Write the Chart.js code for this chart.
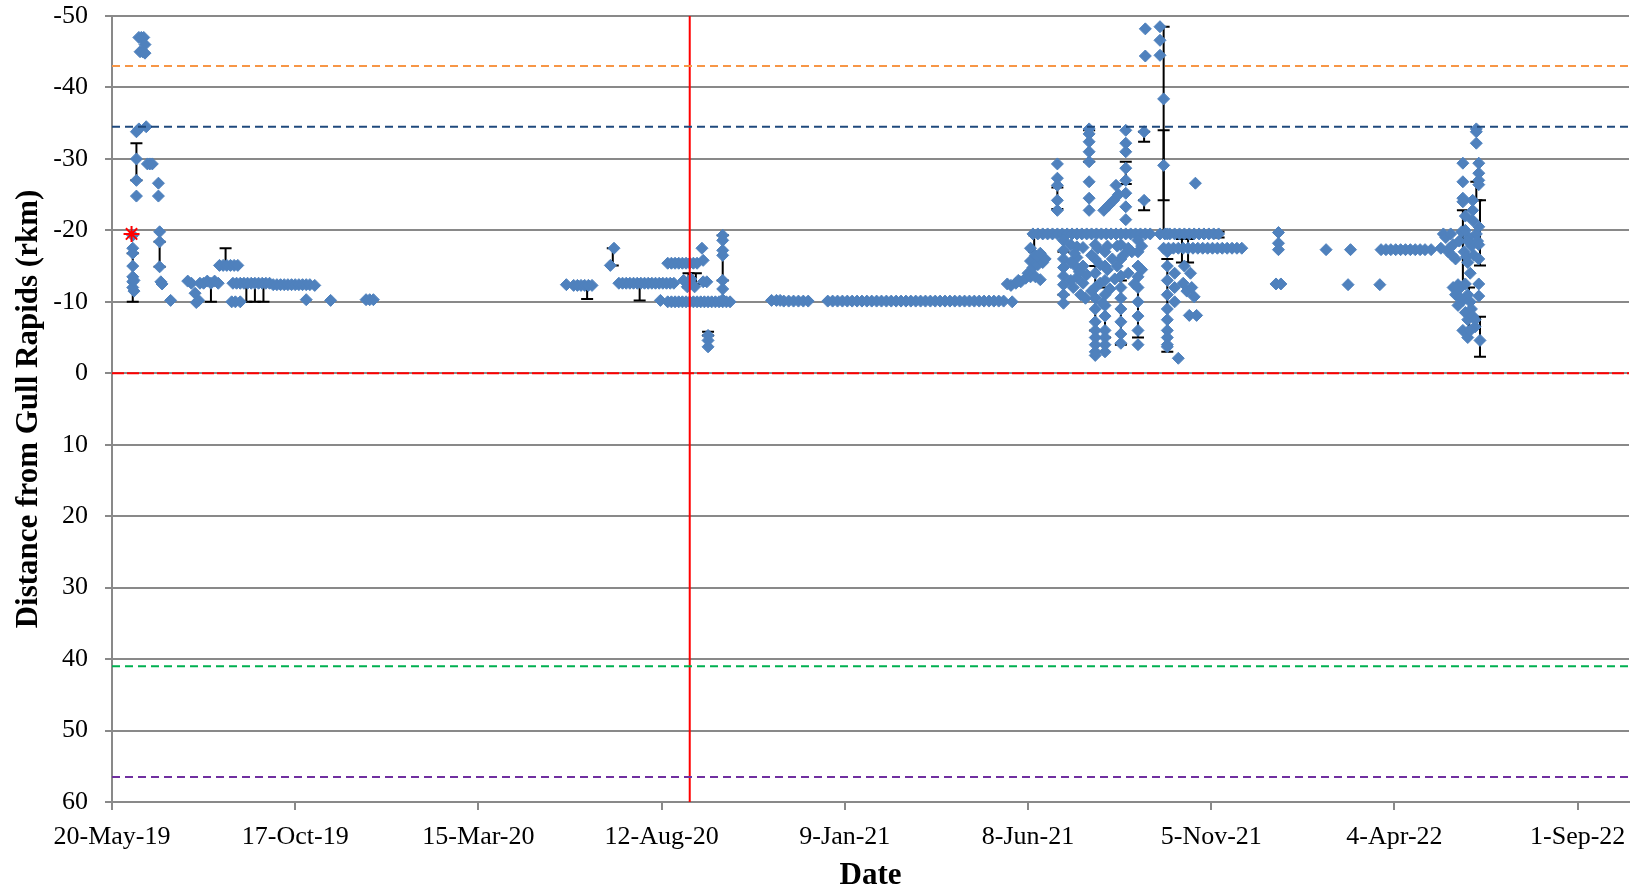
<!DOCTYPE html>
<html lang="en">
<head>
    <meta charset="UTF-8">
    <title>Distance from Gull Rapids</title>
    <style>
        body {
            margin: 0;
            background: #fff;
        }

        #chart-box {
            width: 1639px;
            height: 892px;
        }
    </style>
</head>
<body>
    <div id="chart-box">
        <canvas id="rkm-chart"></canvas>
    </div>

    <script src="https://cdn.jsdelivr.net/npm/chart.js"></script>
    <script>
        // dates are Excel serial day numbers (20-May-19 = 43605)
        const xMin = 43605;
        const xMax = 44847;
        const xTicks = [43605, 43755, 43905, 44055, 44205, 44355, 44505, 44655, 44805];
        const yTicks = [-50, -40, -30, -20, -10, 0, 10, 20, 30, 40, 50, 60];

        // detections: date and distance from Gull Rapids (rkm)
        const detDates = [
            43622, 43622, 43622, 43622, 43622, 43622, 43622, 43623, 43623,
            43625, 43625, 43625, 43625, 43627, 43633,
            43627, 43629, 43631, 43632, 43628, 43630, 43632,
            43634, 43636, 43638, 43643, 43643, 43644, 43644, 43644, 43645, 43646,
            43653, 43667, 43670, 43673, 43674, 43676, 43677, 43680, 43683, 43686, 43689, 43692,
            43693, 43696, 43699, 43702, 43705, 43708, 43703, 43706, 43710,
            43704, 43707, 43710, 43713, 43716, 43719, 43722, 43725, 43728, 43731, 43734,
            43737, 43740, 43743, 43746, 43749, 43752, 43755, 43758, 43761, 43764, 43767,
            43764, 43771, 43784, 43813, 43816, 43819,
            43977, 43983, 43986, 43989, 43992, 43995, 43998, 44013, 44016,
            44020, 44023, 44026, 44029, 44032, 44035, 44038, 44041,
            44044, 44047, 44050, 44053, 44056, 44059, 44062, 44065,
            44054, 44060, 44063, 44066, 44069, 44072, 44075, 44078, 44081, 44084,
            44087, 44090, 44093, 44096, 44099, 44102, 44105, 44108, 44111,
            44060, 44063, 44066, 44069, 44072, 44075, 44078, 44081, 44084,
            44073, 44076, 44079, 44082, 44088, 44089, 44089, 44092,
            44105, 44105, 44105, 44105, 44105, 44105, 44105,
            44093, 44093, 44093,
            44145, 44149, 44152, 44155, 44159, 44163, 44167, 44171, 44175,
            44191, 44195, 44199, 44203, 44207, 44211, 44215, 44219, 44223, 44227, 44231, 44235, 44239,
            44243, 44247, 44251, 44255, 44259, 44263, 44267, 44271, 44275, 44279, 44283, 44287,
            44291, 44295, 44299, 44303, 44307, 44311, 44315, 44319, 44323, 44327, 44331, 44335,
            44338, 44341, 44342, 44345, 44347, 44349, 44353, 44355, 44357, 44361, 44365,
            44357, 44357, 44359, 44359, 44361, 44361, 44363, 44363, 44365, 44367, 44369,
            44363, 44367, 44371, 44375, 44379, 44383, 44387, 44391, 44395, 44399, 44403, 44407,
            44411, 44415, 44419, 44423, 44427, 44431, 44435, 44439, 44443, 44447, 44451, 44455,
            44379, 44379, 44379, 44379, 44379,
            44384, 44384, 44384, 44384, 44384, 44384, 44384, 44384,
            44395, 44395, 44395, 44395, 44392, 44398,
            44405, 44405, 44405, 44405, 44405, 44405, 44405, 44405,
            44410, 44410, 44410, 44410, 44410, 44410, 44410, 44410, 44410, 44410, 44410, 44410,
            44418, 44418, 44418, 44418, 44418, 44418, 44418, 44418, 44418, 44418,
            44417, 44421, 44425, 44427, 44429,
            44435, 44435, 44435, 44435, 44435, 44435, 44435, 44435,
            44431, 44431, 44431, 44431, 44431, 44431, 44431, 44431, 44431,
            44445, 44445, 44445, 44445, 44445, 44445, 44445, 44445, 44445,
            44390, 44390, 44390, 44393, 44397, 44400, 44400, 44400, 44402, 44403,
            44407, 44407, 44412, 44414, 44414, 44416, 44420, 44420, 44422, 44424,
            44426, 44428, 44428, 44433, 44437, 44437, 44440, 44442, 44448, 44448,
            44450, 44450, 44451, 44451, 44463, 44463, 44463, 44466, 44466,
            44469, 44469, 44469, 44469, 44469, 44469, 44469, 44469, 44469, 44469, 44469,
            44475, 44475, 44475, 44478, 44482, 44485, 44489, 44491, 44487, 44493, 44483, 44488, 44492,
            44466, 44470, 44474, 44478, 44482, 44486, 44490, 44494, 44498, 44502, 44506, 44510, 44514, 44518, 44522, 44526, 44530,
            44463, 44467, 44471, 44475, 44479, 44483, 44487, 44491, 44495, 44499, 44503, 44507, 44511,
            44558, 44562, 44560, 44560, 44560, 44599, 44617, 44619, 44643,
            44644, 44648, 44652, 44656, 44660, 44664, 44668, 44672, 44676, 44680, 44685,
            44693, 44695, 44697, 44699, 44701, 44703, 44705, 44707, 44709, 44705, 44700, 44702, 44708, 44710, 44712,
            44714, 44716, 44718, 44720, 44722, 44723, 44703, 44705, 44711, 44713, 44715, 44711, 44715,
            44711, 44711, 44711, 44711, 44713, 44713, 44715, 44715, 44717, 44717, 44718,
            44719, 44719, 44719, 44719, 44721, 44721, 44722, 44722, 44722,
            44724, 44724, 44724, 44724, 44724, 44724, 44724, 44724, 44724, 44725,
            44713, 44715, 44715, 44717, 44709, 44707
        ];
        const detRkm = [
            -19.3, -17.5, -16.8, -15, -13.5, -12.8, -12, -11.5, -13,
            -33.8, -30, -27, -24.8, -34.2, -34.5,
            -47, -47, -47, -46, -45, -45, -44.8,
            -29.3, -29.3, -29.3, -26.6, -24.8, -19.8, -18.4, -14.9, -12.8, -12.5,
            -10.2, -12.9, -12.6, -11.2, -9.9, -10.2, -12.6, -12.6, -12.9, -12.6, -12.9, -12.6,
            -15.1, -15.1, -15.1, -15.1, -15.1, -15.1, -10, -10, -10,
            -12.6, -12.6, -12.6, -12.6, -12.6, -12.6, -12.6, -12.6, -12.6, -12.6, -12.6,
            -12.4, -12.4, -12.4, -12.4, -12.4, -12.4, -12.4, -12.4, -12.4, -12.4, -12.4,
            -10.3, -12.3, -10.2, -10.3, -10.3, -10.3,
            -12.4, -12.3, -12.3, -12.3, -12.3, -12.3, -12.3, -15.1, -17.5,
            -12.6, -12.6, -12.6, -12.6, -12.6, -12.6, -12.6, -12.6,
            -12.6, -12.6, -12.6, -12.6, -12.6, -12.6, -12.6, -12.6,
            -10.2, -10, -10, -10, -10, -10, -10, -10, -10, -10,
            -10, -10, -10, -10, -10, -10, -10, -10, -10,
            -15.4, -15.4, -15.4, -15.4, -15.4, -15.4, -15.4, -15.4, -15.4,
            -13, -12.1, -13.2, -12.1, -17.5, -15.8, -12.8, -12.8,
            -19.3, -18.6, -17.2, -16.5, -13, -11.8, -10.3,
            -5.3, -4.6, -3.7,
            -10.2, -10.2, -10.2, -10.1, -10.1, -10.1, -10.1, -10.1, -10.1,
            -10.1, -10.1, -10.1, -10.1, -10.1, -10.1, -10.1, -10.1, -10.1, -10.1, -10.1, -10.1, -10.1,
            -10.1, -10.1, -10.1, -10.1, -10.1, -10.1, -10.1, -10.1, -10.1, -10.1, -10.1, -10.1,
            -10.1, -10.1, -10.1, -10.1, -10.1, -10.1, -10.1, -10.1, -10.1, -10.1, -10.1, -10.1,
            -12.5, -12.3, -10, -12.6, -13, -12.8, -13.3, -14, -13.5, -13.5, -13.1,
            -17.5, -15.7, -19.5, -14.8, -16.5, -15.3, -15.2, -16.3, -16.8, -15.5, -16,
            -19.5, -19.5, -19.5, -19.5, -19.5, -19.5, -19.5, -19.5, -19.5, -19.5, -19.5, -19.5,
            -19.5, -19.5, -19.5, -19.5, -19.5, -19.5, -19.5, -19.5, -19.5, -19.5, -19.5, -19.5,
            -29.3, -27.3, -26.3, -24.2, -22.8,
            -18.6, -17.2, -16, -14.8, -13.6, -12.4, -11, -9.8,
            -17.7, -16.2, -14.8, -13.4, -12, -11,
            -34.2, -33.5, -32.4, -31, -29.6, -26.8, -24.5, -22.8,
            -18, -16, -14, -12, -10.5, -9, -7.2, -6, -5, -4, -3, -2.5,
            -17, -15, -13, -11, -9.5, -8, -6, -5, -4, -3,
            -22.8, -23.5, -24.2, -26.3, -25,
            -34, -32.2, -31, -28.7, -27, -25.2, -23.3, -21.5,
            -18, -16, -13.6, -12, -10.5, -9, -7.2, -5.5, -4.2,
            -18.6, -17, -15, -13.5, -12, -10, -8, -6, -4,
            -18, -15.5, -13, -16.8, -14.2, -17.6, -15, -12.6, -10.5, -13.8,
            -16.5, -11.5, -17.5, -15.2, -12.6, -9.8, -17.8, -14.5, -11.8, -16,
            -13.2, -17.8, -15, -16.5, -17.5, -14, -17, -12.5, -17.8, -14.5,
            -33.8, -24.2, -48.2, -44.4, -48.5, -46.6, -44.5, -38.4, -29.1,
            -19.5, -17, -15, -13, -11, -9, -7.5, -6, -5, -4, -3.7,
            -14, -12, -10, -2.1, -12.6, -11.5, -12, -10.7, -8.1, -8.1, -15, -14, -26.6,
            -17.5, -17.5, -17.5, -17.5, -17.5, -17.5, -17.5, -17.5, -17.5, -17.5, -17.5, -17.5, -17.5, -17.5, -17.5, -17.5, -17.5,
            -19.5, -19.5, -19.5, -19.5, -19.5, -19.5, -19.5, -19.5, -19.5, -19.5, -19.5, -19.5, -19.5,
            -12.5, -12.5, -19.7, -18.2, -17.3, -17.3, -12.4, -17.3, -12.4,
            -17.3, -17.3, -17.3, -17.3, -17.3, -17.3, -17.3, -17.3, -17.3, -17.3, -17.3,
            -17.5, -19.5, -19, -17, -19.5, -18, -16, -12.4, -12, -11, -17.5, -16.5, -18.5, -19.8, -17,
            -16.3, -19, -17.8, -16.5, -19.5, -18.5, -12, -11.8, -10.2, -8.5, -7.5, -6, -5.8,
            -29.4, -26.8, -24.5, -24, -22, -20, -18.5, -15.5, -14, -10, -9,
            -24.2, -22.8, -21.4, -8, -6.5, -7.5, -34.2, -33.8, -32.2,
            -29.4, -28, -27, -26.4, -20.5, -18, -16, -12.5, -10.8, -4.6,
            -12.5, -11, -5, -6, -10.5, -9.5
        ];

        // error bars: date, upper and lower end (rkm)
        const errDates = [43622, 43625, 43644, 43686, 43698, 43715, 43722, 43729,
            43994, 44015, 44037, 44077, 44083, 44093, 44105,
            44360, 44379, 44384, 44405, 44410, 44418, 44431, 44435, 44445, 44450, 44450,
            44466, 44466, 44469, 44481, 44486, 44511,
            44711, 44716, 44722, 44725, 44725];
        const errTop = [-16.8, -32.2, -18.4, -12.6, -17.5, -12.6, -12.6, -12.6,
            -12.3, -17.5, -12.6, -14, -14, -5.8, -19.3,
            -19.3, -26, -17, -34, -15, -12, -13, -29.6, -15, -33.8, -24.2,
            -48.5, -34, -16, -18.8, -18.8, -19.8,
            -22.8, -12, -26.8, -24.2, -7.9];
        const errBottom = [-10, -27, -14.9, -10, -15.1, -10, -10, -10,
            -10.4, -15.1, -10.2, -12, -12.5, -5.3, -13,
            -17, -23, -11, -29.6, -6, -5, -4, -26.5, -5, -32.4, -22.8,
            -19.6, -24.2, -3, -15.5, -15.5, -19,
            -12.6, -6, -24.2, -15.1, -2.3];

        // first release location
        const releaseDates = [43621];
        const releaseRkm = [-19.5];

        // horizontal reference levels (rkm) and the vertical date marker
        const refLevels = [-43, -34.5, 0, 41, 56.5];
        const refColors = ['#F79646', '#1F497D', '#FF0000', '#00B050', '#7030A0'];
        const markerDate = 44078;

        const months = ['Jan', 'Feb', 'Mar', 'Apr', 'May', 'Jun', 'Jul', 'Aug', 'Sep', 'Oct', 'Nov', 'Dec'];

        function serialToLabel(serial) {
            const d = new Date((serial - 25569) * 86400000);
            const yy = String(d.getUTCFullYear()).slice(2);
            return `${d.getUTCDate()}-${months[d.getUTCMonth()]}-${yy}`;
        }

        const errorBars = {
            id: 'errorBars',
            beforeDatasetsDraw(chart) {
                const { ctx, scales: { x, y } } = chart;
                ctx.save();
                ctx.strokeStyle = '#000';
                ctx.lineWidth = 2;
                errDates.forEach((d, i) => {
                    const px = x.getPixelForValue(d);
                    const top = y.getPixelForValue(errTop[i]);
                    const bot = y.getPixelForValue(errBottom[i]);
                    ctx.beginPath();
                    ctx.moveTo(px, top);
                    ctx.lineTo(px, bot);
                    ctx.moveTo(px - 6, top);
                    ctx.lineTo(px + 6, top);
                    ctx.moveTo(px - 6, bot);
                    ctx.lineTo(px + 6, bot);
                    ctx.stroke();
                });
                ctx.restore();
            }
        };

        const refDatasets = refLevels.map((level, i) => ({
            type: 'line',
            data: [{ x: xMin, y: level }, { x: xMax, y: level }],
            borderColor: refColors[i],
            borderWidth: 2,
            borderDash: level === 0 ? [12, 3] : [8, 5],
            pointRadius: 0,
            order: 0
        }));

        const serif = 'Liberation Serif, Times New Roman, serif';
        const gridGray = '#898989';

        const ctx = document.getElementById('rkm-chart').getContext('2d');
        new Chart(ctx, {
            type: 'scatter',
            data: {
                datasets: [
                    ...refDatasets,
                    {
                        type: 'line',
                        data: [{ x: markerDate, y: -50 }, { x: markerDate, y: 60 }],
                        borderColor: '#FF0000',
                        borderWidth: 2,
                        pointRadius: 0,
                        order: 0
                    },
                    {
                        data: releaseDates.map((d, i) => ({ x: d, y: releaseRkm[i] })),
                        pointStyle: 'star',
                        radius: 8,
                        borderColor: '#FF0000',
                        borderWidth: 2,
                        order: 1
                    },
                    {
                        data: detDates.map((d, i) => ({ x: d, y: detRkm[i] })),
                        pointStyle: 'rectRot',
                        radius: 6,
                        backgroundColor: '#4F81BD',
                        borderColor: '#4F81BD',
                        borderWidth: 1,
                        order: 2
                    }
                ]
            },
            options: {
                responsive: true,
                maintainAspectRatio: false,
                animation: false,
                layout: {
                    padding: { left: 0, right: 8, top: 0, bottom: 0 }
                },
                plugins: {
                    legend: { display: false },
                    tooltip: { enabled: false }
                },
                scales: {
                    x: {
                        type: 'linear',
                        min: xMin,
                        max: xMax,
                        afterBuildTicks: scale => {
                            scale.ticks = xTicks.map(v => ({ value: v }));
                        },
                        afterFit: scale => {
                            scale.height = 90;
                        },
                        ticks: {
                            callback: v => serialToLabel(v),
                            maxRotation: 0,
                            autoSkip: false,
                            color: '#000',
                            padding: 12,
                            font: { family: serif, size: 26 }
                        },
                        grid: {
                            drawOnChartArea: false,
                            color: gridGray,
                            lineWidth: 2,
                            tickLength: 8
                        },
                        border: { color: gridGray, width: 2 },
                        title: {
                            display: true,
                            text: 'Date',
                            color: '#000',
                            padding: { top: 0, bottom: -3 },
                            font: { family: serif, size: 31, weight: 'bold' }
                        }
                    },
                    y: {
                        reverse: true,
                        min: -50,
                        max: 60,
                        afterBuildTicks: scale => {
                            scale.ticks = yTicks.map(v => ({ value: v }));
                        },
                        afterFit: scale => {
                            scale.width = 112;
                            scale.paddingTop = 16;
                            scale.paddingBottom = 16;
                        },
                        ticks: {
                            color: '#000',
                            padding: 17,
                            font: { family: serif, size: 26 }
                        },
                        grid: {
                            color: gridGray,
                            lineWidth: 2,
                            tickLength: 7
                        },
                        border: { color: gridGray, width: 2 },
                        title: {
                            display: true,
                            text: 'Distance from Gull Rapids (rkm)',
                            color: '#000',
                            padding: { top: 10, bottom: 0 },
                            font: { family: serif, size: 31, weight: 'bold' }
                        }
                    }
                }
            },
            plugins: [errorBars]
        });
    </script>
</body>
</html>
